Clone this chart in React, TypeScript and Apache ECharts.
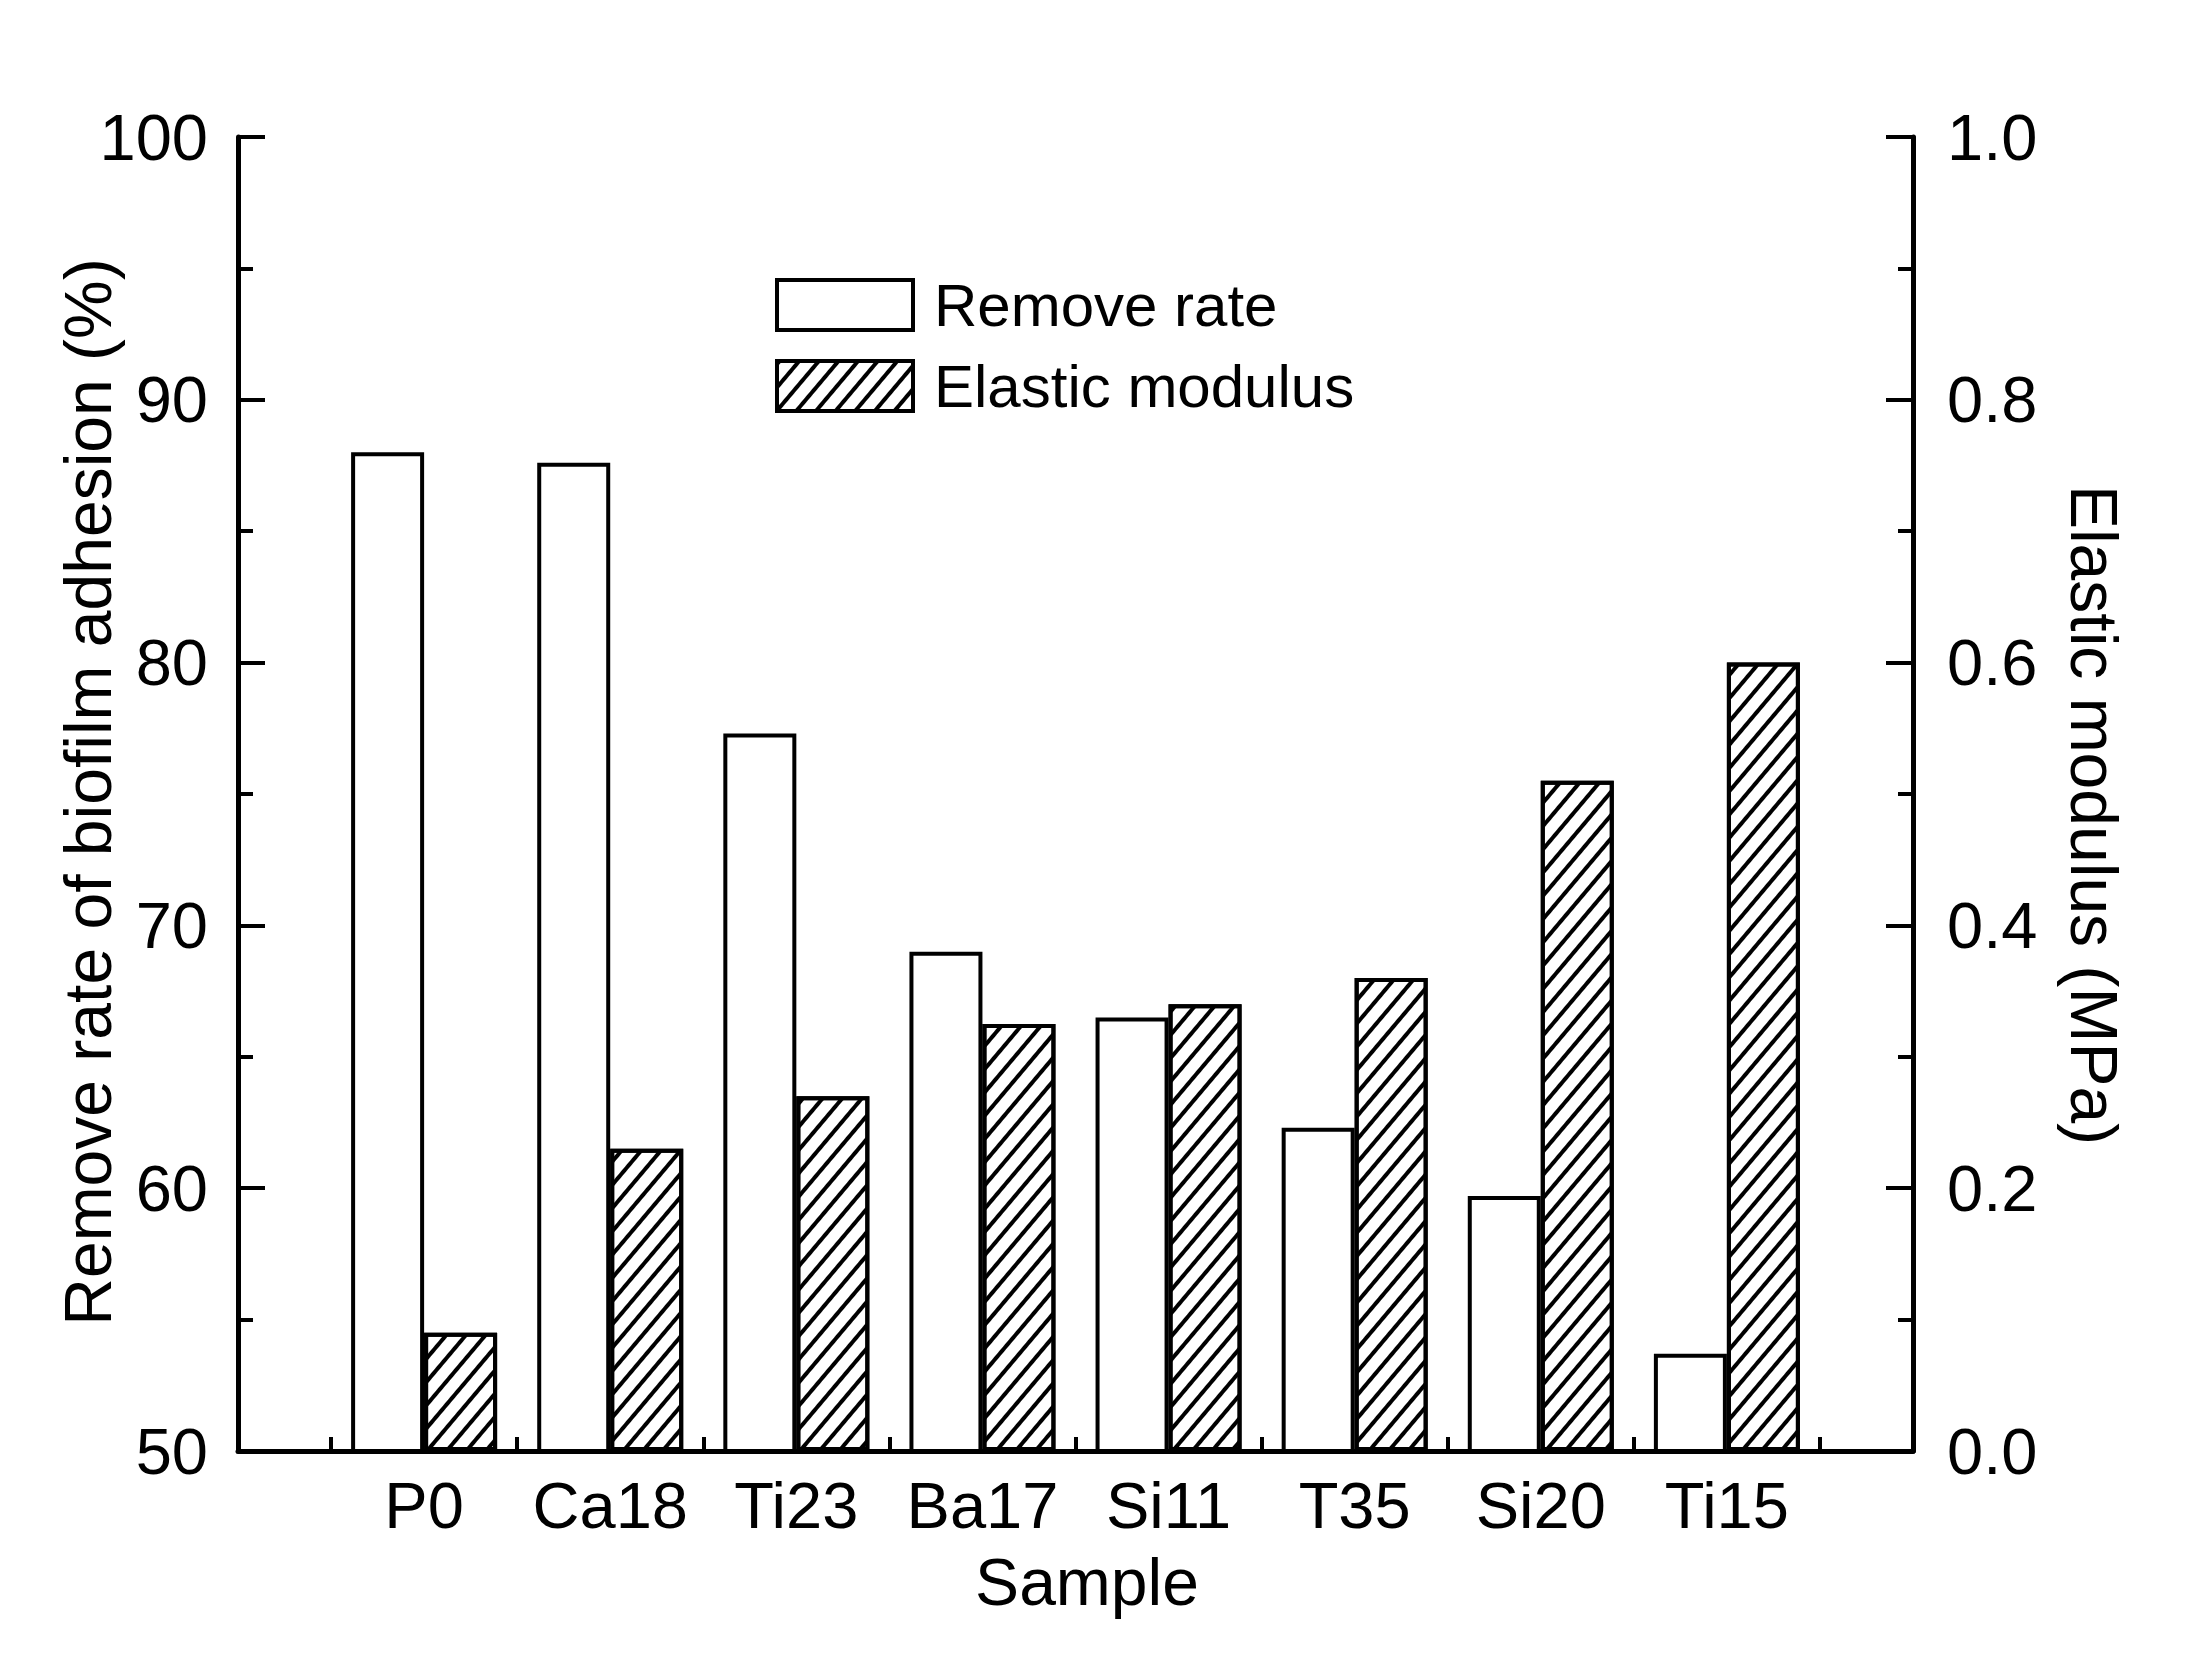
import React, { useEffect, useRef } from "react";
import * as echarts from "echarts";

const categories = ["P0", "Ca18", "Ti23", "Ba17", "Si11", "T35", "Si20", "Ti15"];
const removeRate = [88.0, 87.6, 77.3, 69.0, 66.5, 62.3, 59.7, 53.7];
const elasticModulus = [0.09, 0.23, 0.27, 0.325, 0.34, 0.36, 0.51, 0.6];
const seriesNames = ["Remove rate", "Elastic modulus"];
const leftTitle = "Remove rate of biofilm adhesion (%)";
const rightTitle = "Elastic modulus (MPa)";
const xTitle = "Sample";

const FONT = "'Liberation Sans', Arial, Helvetica, sans-serif";

export default function App() {
  const ref = useRef<HTMLDivElement>(null);
  useEffect(() => {
    if (!ref.current) return;
    const chart = echarts.init(ref.current, undefined, { renderer: "svg" });
    const axisLine = { show: true, lineStyle: { color: "#000", width: 5 } };
    const option: any = {
      animation: false,
      backgroundColor: "#fff",
      textStyle: { fontFamily: FONT, color: "#000" },
      grid: { left: 238, right: 274, top: 137, bottom: 209, containLabel: false },
      legend: {
        orient: "vertical",
        left: 775,
        top: 275,
        padding: 0,
        itemWidth: 136,
        itemHeight: 50,
        itemGap: 21,
        icon: "rect",
        itemStyle: { borderColor: "#000", borderWidth: 4 },
        textStyle: { fontFamily: FONT, fontSize: 60, color: "#000", padding: [0, 0, 0, 16] },
        data: seriesNames,
      },
      xAxis: [
        {
          type: "value",
          min: 0,
          max: 9,
          interval: 1,
          position: "bottom",
          axisLine,
          axisTick: { show: false },
          splitLine: { show: false },
          axisLabel: {
            margin: 22,
            fontFamily: FONT,
            fontSize: 65,
            color: "#000",
            formatter: (v: number) => categories[Math.round(v) - 1] ?? "",
          },
        },
        {
          type: "category",
          data: ["", "", "", "", "", "", "", "", ""],
          boundaryGap: true,
          position: "bottom",
          axisLine: { show: false },
          axisLabel: { show: false, interval: 0 },
          axisTick: {
            show: true,
            inside: true,
            alignWithLabel: true,
            interval: 0,
            length: 14,
            lineStyle: { color: "#000", width: 4 },
          },
          splitLine: { show: false },
        },
      ],
      yAxis: [
        {
          type: "value",
          min: 50,
          max: 100,
          interval: 10,
          position: "left",
          axisLine,
          axisTick: { show: true, inside: true, length: 27, lineStyle: { color: "#000", width: 4 } },
          minorTick: { show: true, splitNumber: 2, length: 15, lineStyle: { color: "#000", width: 4 } },
          splitLine: { show: false },
          axisLabel: {
            margin: 30,
            fontFamily: FONT,
            fontSize: 65,
            color: "#000",
            padding: [0, 0, 12, 0],
          },
        },
        {
          type: "value",
          min: 0,
          max: 1,
          interval: 0.2,
          position: "right",
          axisLine,
          axisTick: { show: true, inside: true, length: 27, lineStyle: { color: "#000", width: 4 } },
          minorTick: { show: true, splitNumber: 2, length: 15, lineStyle: { color: "#000", width: 4 } },
          splitLine: { show: false },
          axisLabel: {
            margin: 34,
            fontFamily: FONT,
            fontSize: 65,
            color: "#000",
            padding: [0, 0, 12, 0],
            formatter: (v: number) => v.toFixed(1),
          },
        },
      ],
      series: [
        {
          name: seriesNames[0],
          type: "bar",
          xAxisIndex: 0,
          yAxisIndex: 0,
          barWidth: 73,
          barGap: "0%",
          data: removeRate.map((v, i) => [i + 1, v]),
          itemStyle: { color: "#fff", borderColor: "#000", borderWidth: 4 },
        },
        {
          name: seriesNames[1],
          type: "bar",
          xAxisIndex: 0,
          yAxisIndex: 1,
          barWidth: 73,
          barGap: "0%",
          data: elasticModulus.map((v, i) => [i + 1, v]),
          itemStyle: {
            color: "#fff",
            borderColor: "#000",
            borderWidth: 4,
            decal: {
              symbol: "rect",
              symbolSize: 1,
              symbolKeepAspect: false,
              color: "#000",
              backgroundColor: "#fff",
              dashArrayX: [1, 0],
              dashArrayY: [3.5, 11],
              rotation: -0.87,
            },
          },
        },
      ],
      graphic: [
        {
          type: "text",
          x: 88,
          y: 792,
          rotation: Math.PI / 2,
          style: {
            text: leftTitle,
            font: `66px ${FONT}`,
            fill: "#000",
            align: "center",
            verticalAlign: "middle",
          },
        },
        {
          type: "text",
          x: 2094,
          y: 815,
          rotation: -Math.PI / 2,
          style: {
            text: rightTitle,
            font: `66px ${FONT}`,
            fill: "#000",
            align: "center",
            verticalAlign: "middle",
          },
        },
        {
          type: "text",
          x: 1087,
          y: 1582,
          style: {
            text: xTitle,
            font: `66px ${FONT}`,
            fill: "#000",
            align: "center",
            verticalAlign: "middle",
          },
        },
      ],
    };
    chart.setOption(option);
    return () => chart.dispose();
  }, []);
  return (
    <div
      ref={ref}
      style={{ position: "absolute", left: 0, top: 0, width: 2187, height: 1660, background: "#fff" }}
    />
  );
}
